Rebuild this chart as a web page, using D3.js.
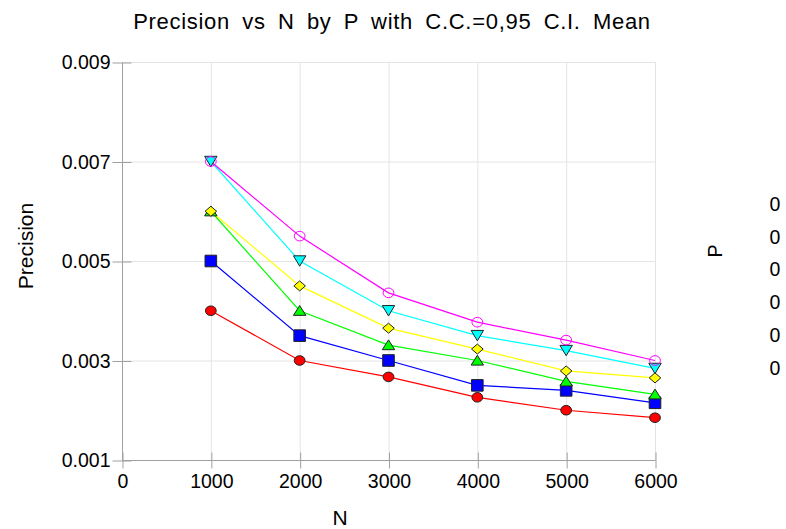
<!DOCTYPE html>
<html>
<head>
<meta charset="utf-8">
<script src="https://cdn.jsdelivr.net/npm/d3@7"></script>
<style>
  html, body { margin: 0; padding: 0; background: #ffffff; }
  svg { display: block; font-family: "Liberation Sans", Arial, sans-serif; }
</style>
</head>
<body>
<svg id="chart" width="786" height="529"></svg>
<script>
// Sample size values on the horizontal axis
const nValues = [1000, 2000, 3000, 4000, 5000, 6000];

// Precision for each P level
const precisionRed     = [0.00400, 0.00300, 0.00267, 0.00226, 0.00200, 0.00185];
const precisionBlue    = [0.00500, 0.00350, 0.00300, 0.00250, 0.00240, 0.00215];
const precisionGreen   = [0.00600, 0.00400, 0.00331, 0.00300, 0.00258, 0.00232];
const precisionYellow  = [0.00600, 0.00450, 0.00365, 0.00323, 0.00279, 0.00265];
const precisionCyan    = [0.00700, 0.00500, 0.00400, 0.00350, 0.00320, 0.00284];
const precisionMagenta = [0.00700, 0.00550, 0.00436, 0.00377, 0.00341, 0.00300];

// Legend entries for P
const legendLabels = ["0", "0", "0", "0", "0", "0"];

// Axis ticks
const xTicks = [0, 1000, 2000, 3000, 4000, 5000, 6000];
const yTicks = [0.001, 0.003, 0.005, 0.007, 0.009];

const series = [
  { values: precisionRed,     color: "#ff0000", symbol: "circle" },
  { values: precisionBlue,    color: "#0000ff", symbol: "square" },
  { values: precisionGreen,   color: "#00ff00", symbol: "triangleUp" },
  { values: precisionYellow,  color: "#ffff00", symbol: "diamond" },
  { values: precisionCyan,    color: "#00ffff", symbol: "triangleDown" },
  { values: precisionMagenta, color: "#ff00ff", symbol: "ring" }
];

const svg = d3.select("#chart");
const plotLeft = 122, plotRight = 655, plotTop = 62, plotBottom = 460;

const x = d3.scaleLinear().domain([0, 6000]).range([plotLeft, plotRight]);
const y = d3.scaleLinear().domain([0.001, 0.009]).range([plotBottom, plotTop]);

// Grid
const grid = svg.append("g").attr("stroke", "#e4e4e4").attr("stroke-width", 1);
grid.selectAll("line.v").data(xTicks.filter(d => d > 0)).join("line")
  .attr("x1", d => x(d) + 0.5).attr("x2", d => x(d) + 0.5)
  .attr("y1", plotTop).attr("y2", plotBottom);
grid.selectAll("line.h").data(yTicks.filter(d => d > 0.001)).join("line")
  .attr("x1", plotLeft).attr("x2", plotRight)
  .attr("y1", d => y(d) + 0.5).attr("y2", d => y(d) + 0.5);

// Axes
const axisColor = "#a0a0a0";
const xAxis = svg.append("g")
  .attr("transform", `translate(0.5,${plotBottom + 0.5})`)
  .call(d3.axisBottom(x).tickValues(xTicks).tickFormat(d3.format("d")).tickSize(9).tickPadding(5));
xAxis.selectAll(".tick line").attr("y1", -8).attr("y2", 8);

const yAxis = svg.append("g")
  .attr("transform", `translate(${plotLeft + 0.5},0.5)`)
  .call(d3.axisLeft(y).tickValues(yTicks).tickFormat(d3.format(".3f")).tickSize(9).tickPadding(3));
yAxis.selectAll(".tick line").attr("x1", 9).attr("x2", -10);

[xAxis, yAxis].forEach(a => {
  a.select(".domain").attr("stroke", axisColor);
  a.selectAll(".tick line").attr("stroke", axisColor);
  a.selectAll(".tick text").attr("fill", "#000").attr("font-size", "19.5px")
    .attr("font-family", "'Liberation Sans', Arial, sans-serif");
});
xAxis.select(".domain").attr("d", `M${plotLeft},0H${plotRight}`);
yAxis.select(".domain").attr("d", `M0,${plotTop}V${plotBottom}`);

// Lines
const line = d3.line().x((d, i) => x(nValues[i])).y(d => y(d));
svg.append("g").selectAll("path").data(series).join("path")
  .attr("d", s => line(s.values))
  .attr("fill", "none")
  .attr("stroke", s => s.color)
  .attr("stroke-width", 1.2);

// Markers
function symbolPath(kind) {
  switch (kind) {
    case "circle":
    case "ring": return "M-5.4,0A5.4,4.8 0 1,0 5.4,0A5.4,4.8 0 1,0 -5.4,0Z";
    case "square": return "M-5.8,-5.8H5.8V5.8H-5.8Z";
    case "triangleUp": return "M0,-5.2L6.2,4.6L-6.2,4.6Z";
    case "triangleDown": return "M-6.2,-5.2L6.2,-5.2L0,5.2Z";
    case "diamond": return "M0,-5L5.8,0L0,5L-5.8,0Z";
  }
}
const markers = svg.append("g");
series.forEach(s => {
  markers.append("g").selectAll("path").data(s.values).join("path")
    .attr("transform", (d, i) => `translate(${x(nValues[i])},${y(d)})`)
    .attr("d", symbolPath(s.symbol))
    .attr("fill", s.symbol === "ring" ? "none" : s.color)
    .attr("stroke", s.symbol === "ring" ? s.color : "#222")
    .attr("stroke-width", 1);
});

// Titles
svg.append("text")
  .attr("x", 392).attr("y", 29)
  .attr("text-anchor", "middle")
  .attr("font-size", "22px")
  .style("letter-spacing", "0.7px")
  .style("word-spacing", "5.5px")
  .text("Precision vs N by P with C.C.=0,95 C.I. Mean");

svg.append("text")
  .attr("x", 340).attr("y", 525)
  .attr("text-anchor", "middle")
  .attr("font-size", "21px")
  .text("N");

svg.append("text")
  .attr("transform", "translate(33,246) rotate(-90)")
  .attr("text-anchor", "middle")
  .attr("font-size", "21px")
  .text("Precision");

// Legend
svg.append("text")
  .attr("transform", "translate(722,251) rotate(-90)")
  .attr("text-anchor", "middle")
  .attr("font-size", "19.5px")
  .text("P");

svg.append("g").selectAll("text").data(legendLabels).join("text")
  .attr("x", 775)
  .attr("y", (d, i) => 204 + i * 32.8)
  .attr("dy", "0.35em")
  .attr("text-anchor", "middle")
  .attr("font-size", "19.5px")
  .text(d => d);
</script>
</body>
</html>
